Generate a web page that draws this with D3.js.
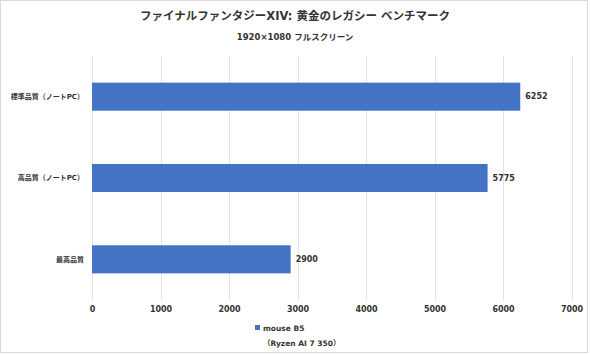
<!DOCTYPE html>
<html lang="ja">
<head>
<meta charset="utf-8">
<title>FFXIV benchmark</title>
<script src="https://cdnjs.cloudflare.com/ajax/libs/d3/7.8.5/d3.min.js"></script>
<style>
  body { margin: 0; background: #fff; }
  text { font-family: "DejaVu Sans", "Noto Sans CJK JP", sans-serif; font-weight: bold; fill: #333; }
</style>
</head>
<body>
<script>
// chart data
var categories = ["標準品質（ノートPC）", "高品質（ノートPC）", "最高品質"];
var scores = [6252, 5775, 2900];
var xTicks = [0, 1000, 2000, 3000, 4000, 5000, 6000, 7000];
var seriesName = "mouse B5";
var seriesSub = "（Ryzen AI 7 350）";

var w = 590, h = 354;
var plotLeft = 92, plotRight = 571.5, plotTop = 56, plotBottom = 300;

var svg = d3.select("body").append("svg")
  .attr("width", w)
  .attr("height", h);

// outer border
svg.append("rect")
  .attr("x", 0.5).attr("y", 0.5)
  .attr("width", w - 3).attr("height", h - 2)
  .attr("fill", "#fff")
  .attr("stroke", "#d9d9d9");

var x = d3.scaleLinear().domain([0, 7000]).range([plotLeft, plotRight]);
var y = d3.scaleBand().domain(categories).range([plotTop, plotBottom]).paddingInner(0.655).paddingOuter(0.3275);

// gridlines
svg.selectAll("line.grid")
  .data(xTicks)
  .enter()
  .append("line")
  .attr("class", "grid")
  .attr("x1", function(d) { return Math.round(x(d)) + 0.5; })
  .attr("x2", function(d) { return Math.round(x(d)) + 0.5; })
  .attr("y1", plotTop)
  .attr("y2", plotBottom)
  .attr("stroke", "#e3e3e3");

// x axis labels
var xAxis = d3.axisBottom(x).tickValues(xTicks).tickFormat(d3.format("d")).tickSize(0).tickPadding(0);
var gx = svg.append("g").attr("transform", "translate(0," + 306 + ")").call(xAxis);
gx.select(".domain").remove();
gx.selectAll("text").attr("font-size", "8px").attr("fill", "#333").attr("dy", "0.71em")
  .style("font-family", "DejaVu Sans").style("font-weight", "bold");

// bars
svg.selectAll("rect.bar")
  .data(scores)
  .enter()
  .append("rect")
  .attr("class", "bar")
  .attr("x", x(0))
  .attr("y", function(d, i) { return y(categories[i]); })
  .attr("width", function(d) { return x(d) - x(0); })
  .attr("height", y.bandwidth())
  .attr("fill", "#4472c4");

// value labels
svg.selectAll("text.val")
  .data(scores)
  .enter()
  .append("text")
  .attr("class", "val")
  .attr("x", function(d) { return x(d) + 5; })
  .attr("y", function(d, i) { return y(categories[i]) + y.bandwidth() / 2; })
  .attr("dy", "0.35em")
  .attr("font-size", "8px")
  .text(function(d) { return d; });

// category labels
var yAxis = d3.axisLeft(y).tickSize(0).tickPadding(0);
var gy = svg.append("g").attr("transform", "translate(" + 84 + ",0)").call(yAxis);
gy.select(".domain").remove();
gy.selectAll("text").attr("font-size", "7px").attr("fill", "#333")
  .style("font-family", "'DejaVu Sans', 'Noto Sans CJK JP'").style("font-weight", "bold");

// titles
svg.append("text")
  .attr("x", 295).attr("y", 20)
  .attr("text-anchor", "middle")
  .attr("font-size", "11.5px")
  .text("ファイナルファンタジーXIV: 黄金のレガシー ベンチマーク");

svg.append("text")
  .attr("x", 295).attr("y", 40)
  .attr("text-anchor", "middle")
  .attr("font-size", "8.5px")
  .text("1920×1080 フルスクリーン");

// legend
svg.append("rect")
  .attr("x", 255).attr("y", 325)
  .attr("width", 5).attr("height", 5)
  .attr("fill", "#4472c4");
svg.append("text")
  .attr("x", 263).attr("y", 328)
  .attr("dy", "0.35em")
  .attr("font-size", "7.5px")
  .text(seriesName);
svg.append("text")
  .attr("x", 263).attr("y", 343)
  .attr("dy", "0.35em")
  .attr("font-size", "7.5px")
  .text(seriesSub);
</script>
</body>
</html>
